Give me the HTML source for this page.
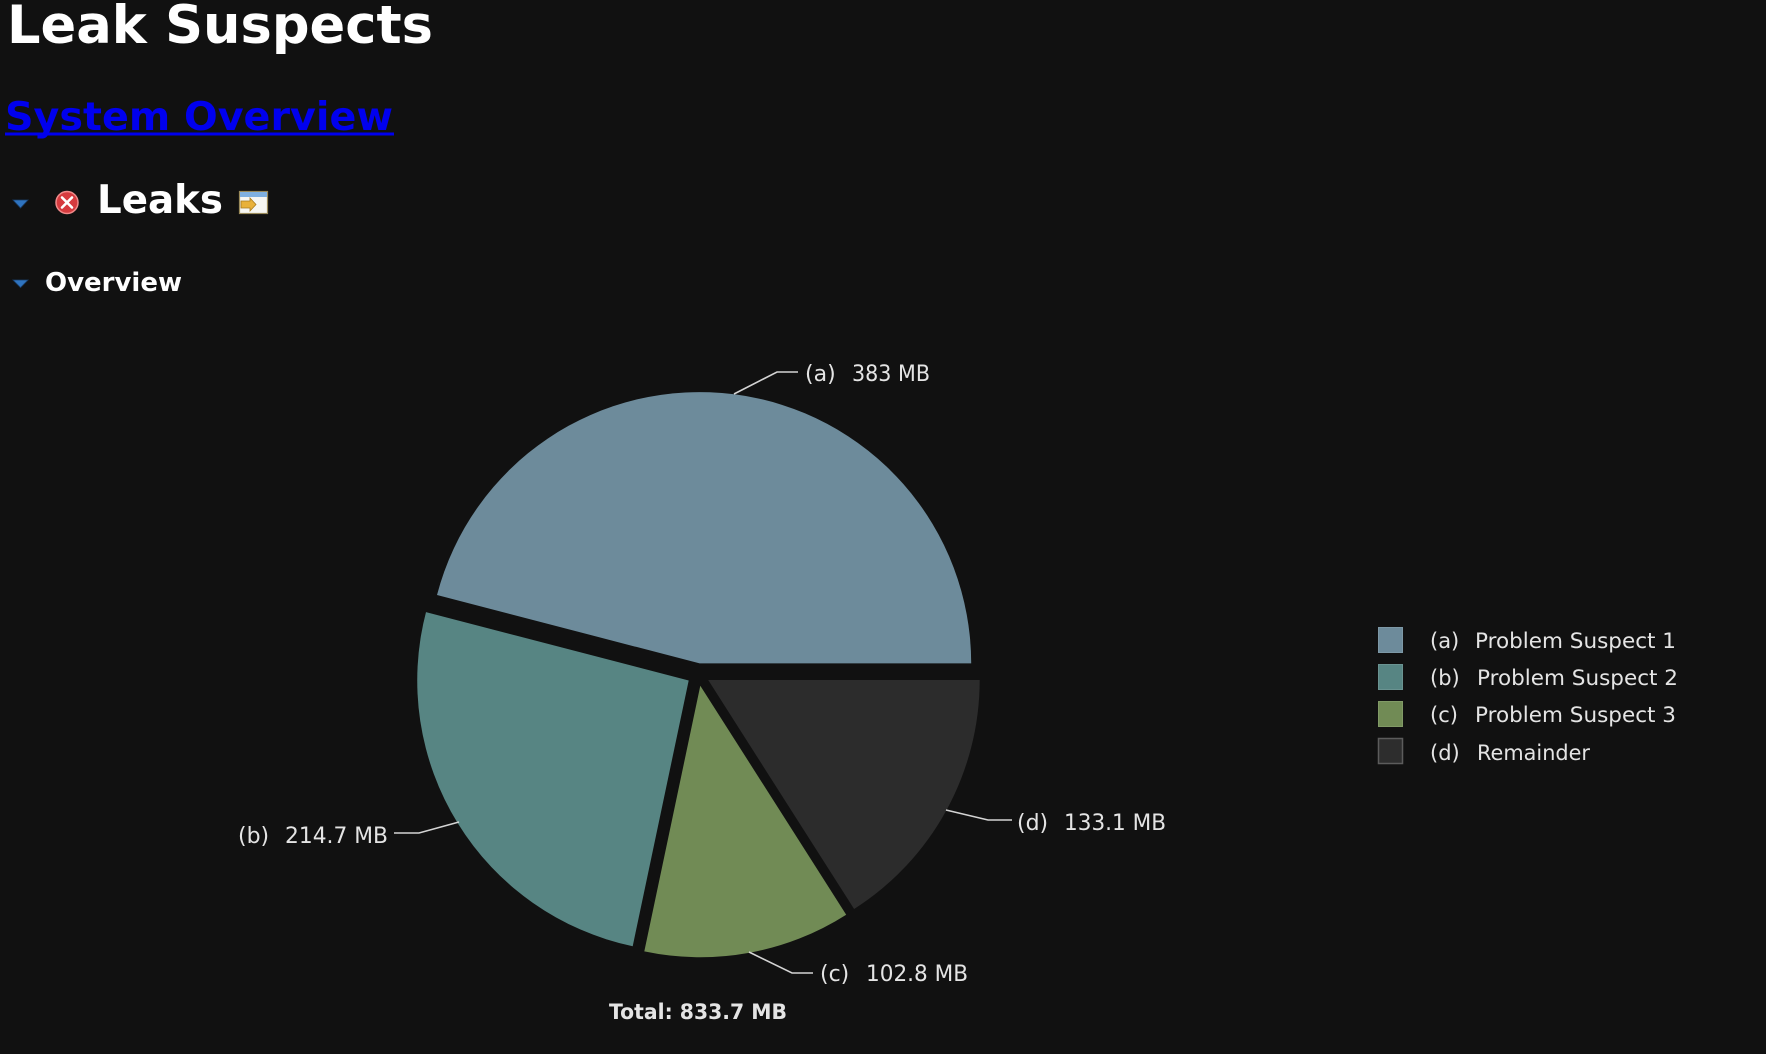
<!DOCTYPE html>
<html>
<head>
<meta charset="utf-8">
<style>
html,body{margin:0;padding:0;background:#111111;width:1766px;height:1054px;overflow:hidden}
svg{display:block}
text{font-family:"DejaVu Sans","Liberation Sans",sans-serif}
</style>
</head>
<body>
<svg width="1766" height="1054" viewBox="0 0 1766 1054" xmlns="http://www.w3.org/2000/svg">
<rect x="0" y="0" width="1766" height="1054" fill="#111111"/>

<!-- Headings -->
<text x="7" y="43" font-size="53" font-weight="bold" fill="#ffffff" textLength="426" lengthAdjust="spacingAndGlyphs">Leak Suspects</text>
<text x="5" y="130" font-size="39.5" font-weight="bold" fill="#0000ee" textLength="388" lengthAdjust="spacingAndGlyphs">System Overview</text>
<rect x="5" y="132.5" width="389" height="3" fill="#0000ee"/>

<!-- Leaks row -->
<polygon points="13,200 28,200 20.5,208" fill="#2f74c0" stroke="#1a3f6a" stroke-width="0.8"/>
<circle cx="67" cy="202.5" r="11" fill="#d63b3f" stroke="#f08a8a" stroke-width="1.5"/>
<path d="M62,197.5 L72,207.5 M72,197.5 L62,207.5" stroke="#ffffff" stroke-width="2.6" stroke-linecap="round"/>
<text x="97" y="213" font-size="39" font-weight="bold" fill="#ffffff" textLength="126" lengthAdjust="spacingAndGlyphs">Leaks</text>
<g>
  <rect x="239.5" y="191.5" width="28" height="22" fill="#f6f6f2" stroke="#9a8a5a" stroke-width="1.2"/>
  <rect x="240" y="192" width="27" height="5" fill="#7fb0e0"/>
  <path d="M241,201 L250,201 L250,198 L256,204.5 L250,211 L250,208 L241,208 Z" fill="#e8b13a" stroke="#a77a1c" stroke-width="0.8"/>
</g>

<!-- Overview row -->
<polygon points="13,280 28,280 20.5,287.5" fill="#2f74c0" stroke="#1a3f6a" stroke-width="0.8"/>
<text x="45" y="291" font-size="26" font-weight="bold" fill="#ffffff" textLength="137" lengthAdjust="spacingAndGlyphs">Overview</text>

<!-- Pie slices -->
<path d="M699.7,663.4 L971.2,663.4 A271.5,271.5 0 0 0 437.0,595.0 Z" fill="#6d8b9b"/>
<path d="M688.7,680.5 L426.0,612.1 A271.5,271.5 0 0 0 632.7,946.2 Z" fill="#578583"/>
<path d="M700.3,685.7 L644.3,951.4 A271.5,271.5 0 0 0 846.2,914.7 Z" fill="#718b55"/>
<path d="M708.2,680.0 L854.1,909.0 A271.5,271.5 0 0 0 979.7,680.0 Z" fill="#2c2c2c"/>

<!-- Leader lines -->
<g stroke="#d4d4d4" stroke-width="1.6" fill="none">
  <polyline points="734,394 777,372 798,372"/>
  <polyline points="459,822 419,833 394,833"/>
  <polyline points="749,952 792,973 813,973"/>
  <polyline points="946,810 988,820 1012,820"/>
</g>

<!-- Labels -->
<g font-size="22" fill="#e4e4e4">
  <text x="805" y="381">(a)</text>
  <text x="852" y="381" textLength="78" lengthAdjust="spacingAndGlyphs">383 MB</text>
  <text x="238" y="843">(b)</text>
  <text x="285" y="843" textLength="103" lengthAdjust="spacingAndGlyphs">214.7 MB</text>
  <text x="820" y="981">(c)</text>
  <text x="866" y="981" textLength="102" lengthAdjust="spacingAndGlyphs">102.8 MB</text>
  <text x="1017" y="830">(d)</text>
  <text x="1064" y="830" textLength="102" lengthAdjust="spacingAndGlyphs">133.1 MB</text>
</g>
<text x="609" y="1019" font-size="21" font-weight="bold" fill="#e4e4e4" textLength="178" lengthAdjust="spacingAndGlyphs">Total: 833.7 MB</text>

<!-- Legend -->
<rect x="1378.5" y="627.5" width="24" height="25" fill="#6d8b9b" stroke="#7d98a6" stroke-width="1"/>
<rect x="1378.5" y="664.5" width="24" height="25" fill="#578583" stroke="#6a9391" stroke-width="1"/>
<rect x="1378.5" y="701.5" width="24" height="25" fill="#718b55" stroke="#819a66" stroke-width="1"/>
<rect x="1378.5" y="738.5" width="24" height="25" fill="#2d2d2d" stroke="#5c5c5c" stroke-width="1.5"/>
<g font-size="21" fill="#e4e4e4">
  <text x="1430" y="648">(a)</text>
  <text x="1475" y="648" textLength="201" lengthAdjust="spacingAndGlyphs">Problem Suspect 1</text>
  <text x="1430" y="685">(b)</text>
  <text x="1477" y="685" textLength="201" lengthAdjust="spacingAndGlyphs">Problem Suspect 2</text>
  <text x="1430" y="722">(c)</text>
  <text x="1475" y="722" textLength="201" lengthAdjust="spacingAndGlyphs">Problem Suspect 3</text>
  <text x="1430" y="760">(d)</text>
  <text x="1477" y="760" textLength="113" lengthAdjust="spacingAndGlyphs">Remainder</text>
</g>
</svg>
</body>
</html>
